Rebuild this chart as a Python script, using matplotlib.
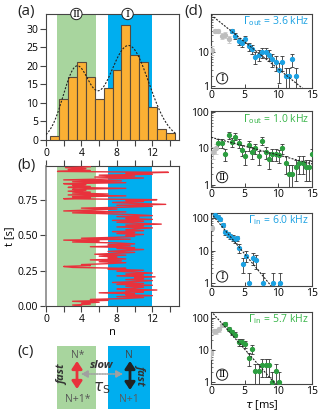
import matplotlib.pyplot as plt
import numpy as np
from matplotlib.patches import Rectangle, FancyArrowPatch

plt.rcParams['font.family'] = ['Open Sans', 'DejaVu Sans']
plt.rcParams['mathtext.fontset'] = 'dejavusans'

# ---------------------------------------------------------------------------
# Data
# ---------------------------------------------------------------------------
hist_n = [1, 2, 3, 4, 5, 6, 7, 8, 9, 10, 11, 12, 13, 14]
hist_counts = [1, 11, 17, 21, 17, 11, 14, 19, 31, 23, 21, 9, 3, 2]

# two-gaussian fit (amplitude, centre, width)
fit_peaks = [(19.0, 3.4, 1.5), (25.5, 9.3, 2.3)]

region_II = (1.25, 5.6)
region_I = (7.0, 12.0)

# charge trace n(t), sampled evenly between 0 and 0.985 s
trace_n = [
    4, 3, 5, 4, 6, 3, 7, 5,
    9, 11, 8, 12, 9, 10, 6,
    11, 9, 12.5, 8, 10, 11, 9, 12,
    8, 11, 7.5, 10, 12, 9, 11,
    10, 12.3, 8, 11, 9, 12, 10, 8,
    11, 7, 9, 3, 2, 5, 4,
    7, 9, 6, 8.5, 5, 9, 7, 8,
    6, 9, 5.5, 8, 10, 7, 9,
    11, 8, 10, 5, 9.5, 7, 10, 8,
    3, 6, 2, 9.5, 4, 8, 10,
    9, 11, 8, 10, 7.5, 11, 9, 10,
    12, 8, 11, 9, 13, 10, 8,
    11, 7.5, 12, 9, 10.5, 8, 12, 10,
    7, 3, 9, 2, 5, 8, 4,
    9, 12, 8, 13.5, 10, 7.5, 11, 9,
    12.5, 2, 5, 3, 9, 2.5, 7,
    3, 5, 2.5, 4.5, 3, 9, 2.5, 5,
    3, 4.5, 2, 9, 3, 8.5, 2,
    7, 11, 5.5, 10, 6, 12, 9, 13.8,
    1.3, 5, 2.5, 4.5, 2.2, 5,
]
trace_tmax = 0.985

# (d) waiting-time histograms
d1_gray_tau = [0.1, 0.6, 1.1, 1.6, 2.1, 2.6]
d1_gray_cnt = [11, 40, 40, 28, 31, 23]
d1_tau = [3.1, 3.6, 4.1, 4.6, 5.1, 5.6, 6.1, 6.6, 7.1, 7.6, 8.1, 8.6, 9.1,
          9.6, 10.1, 10.6, 11.1, 11.6, 12.1, 12.6]
d1_cnt = [40, 29, 20, 18, 23, 14, 12, 7, 8, 9.5, 9.5, 8, 6, 5, 3, 5, 2, 2, 6, 2]

d2_gray_tau = [0.3, 0.75]
d2_gray_cnt = [8, 10]
d2_tau = [1.1, 1.6, 2.1, 2.6, 3.1, 3.6, 4.1, 4.6, 5.1, 5.6, 6.1, 6.6, 7.1, 7.6,
          8.1, 8.6, 9.1, 9.6, 10.1, 10.6, 11.1, 11.6, 12.1, 12.6, 13.1, 13.6,
          14.1, 14.6, 15.0]
d2_cnt = [14, 14, 7, 23, 15, 21, 14, 9, 6, 12, 8, 10, 6, 16, 8, 5, 7, 7, 6.5,
          10, 4, 2, 2, 3, 4, 4, 3, 3, 7]

d3_gray_tau = [0.1]
d3_gray_cnt = [50]
d3_tau = [0.6, 1.0, 1.35, 1.75, 2.1, 2.5, 2.8, 3.2, 3.5, 3.8, 4.2, 4.7, 5.2,
          5.7, 6.2, 6.7, 7.7, 9.2, 10.2]
d3_cnt = [120, 110, 90, 62, 36, 32, 28, 25, 22, 24, 12, 4, 7, 1, 6, 5, 1, 1, 1]

d4_gray_tau = [0.05, 0.4, 0.8, 1.2, 1.6]
d4_gray_cnt = [8, 38, 38, 43, 58]
d4_tau = [2.1, 2.6, 3.1, 3.6, 4.1, 4.6, 5.1, 5.6, 6.1, 6.6, 7.1, 7.6, 8.1, 8.6,
          9.1, 9.6, 10.1]
d4_cnt = [64, 45, 35, 30, 17, 17, 15, 5.4, 11, 2.2, 2.2, 3.3, 3.3, 3.3, 1, 2.2, 1]

# exponential fits: amplitude, decay per ms
d_fits = [(115, 0.36), (20, 0.112), (140, 0.575), (160, 0.545)]
d_labels = [r'$\Gamma_{\rm out}$ = 3.6 kHz', r'$\Gamma_{\rm out}$ = 1.0 kHz',
            r'$\Gamma_{\rm in}$ = 6.0 kHz', r'$\Gamma_{\rm in}$ = 5.7 kHz']
d_regions = ['I', 'II', 'I', 'II']
d_ylims = [(0.88, 122), (0.87, 105), (0.82, 142), (0.87, 150)]

# ---------------------------------------------------------------------------
# Style
# ---------------------------------------------------------------------------
GREEN = '#a8d59e'
BLUE = '#00aeef'
ORANGE = '#fbb034'
RED = '#e8323c'
PT_BLUE = '#1ba1e2'
PT_GREEN = '#2c9e40'
TXT_GREEN = '#39b54a'
GRAY = '#bdbdbd'
SPINE = '#444444'
W, H = 318, 416


def px_axes(fig, x0, y0, x1, y1):
    """Axes from pixel box (top-left origin)."""
    return fig.add_axes([x0 / W, 1 - y1 / H, (x1 - x0) / W, (y1 - y0) / H])


def style_spines(ax, color=SPINE, lw=0.8):
    for s in ax.spines.values():
        s.set_color(color)
        s.set_linewidth(lw)


def circled(ax, x, y, label, transform, size=7):
    ax.text(x, y, label, transform=transform, ha='center', va='center',
            fontsize=size, family=['DejaVu Serif'], clip_on=False, zorder=10,
            bbox=dict(boxstyle='circle,pad=0.12', fc='white', ec='#222222', lw=0.7))


def double_arrow(ax, p0, p1, color, lw, hl, hw, ls='-'):
    ax.add_patch(FancyArrowPatch(p0, p1, arrowstyle=f'<|-|>,head_length={hl},head_width={hw}',
                                 mutation_scale=10, lw=lw, ls=ls, color=color,
                                 shrinkA=0, shrinkB=0))


fig = plt.figure(figsize=(W / 100, H / 100), dpi=100)

# overlay for panel letters and diagram (c)
ov = fig.add_axes([0, 0, 1, 1])
ov.set_xlim(0, W)
ov.set_ylim(H, 0)
ov.axis('off')

# ---------------------------------------------------------------------------
# (a) histogram
# ---------------------------------------------------------------------------
ax_a = px_axes(fig, 46, 14, 179, 140)
ax_a.axvspan(*region_II, color=GREEN, lw=0)
ax_a.axvspan(*region_I, color=BLUE, lw=0)
ax_a.bar(hist_n, hist_counts, width=1.0, color=ORANGE, edgecolor='#5a4a3a', lw=0.8, zorder=3)
nn = np.linspace(0, 14.7, 300)
fit = sum(a * np.exp(-(nn - m) ** 2 / (2 * s ** 2)) for a, m, s in fit_peaks)
ax_a.plot(nn, fit, color='#222222', lw=0.8, ls=(0, (1.8, 1.4)), zorder=4)
ax_a.set_xlim(0, 15)
ax_a.set_ylim(0, 34)
ax_a.set_yticks([0, 5, 10, 15, 20, 25, 30])
ax_a.set_xticks(range(0, 15, 2))
ax_a.set_xticklabels(['0', '', '4', '', '8', '', '12', ''])
ax_a.tick_params(direction='out', length=4, width=0.8, labelsize=7.5, pad=1.5, color=SPINE)
style_spines(ax_a)
circled(ax_a, sum(region_II) / 2, 34, 'II', ax_a.transData)
circled(ax_a, sum(region_I) / 2 - 0.3, 34, 'I', ax_a.transData)

# ---------------------------------------------------------------------------
# (b) trace
# ---------------------------------------------------------------------------
ax_b = px_axes(fig, 46, 166, 179, 306)
ax_b.axvspan(*region_II, color=GREEN, lw=0)
ax_b.axvspan(*region_I, color=BLUE, lw=0)
t = np.linspace(0, trace_tmax, len(trace_n))
ax_b.plot(trace_n, t, color=RED, lw=1.0, zorder=3)
ax_b.set_xlim(0, 15)
ax_b.set_ylim(0, 0.99)
ax_b.set_yticks([0, 0.25, 0.5, 0.75])
ax_b.set_yticklabels(['0.00', '0.25', '0.50', '0.75'])
ax_b.set_xticks(range(0, 15, 2))
ax_b.set_xticklabels(['0', '', '4', '', '8', '', '12', ''])
ax_b.tick_params(direction='out', length=4, width=0.8, labelsize=7.5, pad=1.5,
                 color=SPINE, top=True)
ax_b.set_xlabel('n', fontsize=8, labelpad=2)
ax_b.set_ylabel('t [s]', fontsize=8, labelpad=2)
style_spines(ax_b)
ax_b.spines['left'].set_color('#888888')
ax_b.spines['left'].set_linewidth(1.2)

# ---------------------------------------------------------------------------
# (c) diagram
# ---------------------------------------------------------------------------
ov.add_patch(Rectangle((57, 346), 39, 63, color=GREEN, lw=0))
ov.add_patch(Rectangle((108, 346), 42, 63, color=BLUE, lw=0))
ov.text(78, 355, 'N*', ha='center', va='center', fontsize=7.5, color='#555555')
ov.text(78, 400, 'N+1*', ha='center', va='center', fontsize=7.5, color='#555555')
ov.text(129, 355, 'N', ha='center', va='center', fontsize=7.5, color='#444444')
ov.text(129, 400, 'N+1', ha='center', va='center', fontsize=7.5, color='#5a5a5a')
ov.text(63, 375, 'fast', rotation=90, ha='center', va='center', fontsize=8,
        fontweight='bold', fontstyle='italic', color='#333333')
ov.text(141, 374, 'fast', rotation=-90, ha='center', va='center', fontsize=8,
        fontweight='bold', fontstyle='italic', color='#333333')
double_arrow(ov, (77, 361), (77, 389), RED, 2.0, 0.45, 0.3)
double_arrow(ov, (130, 361), (130, 390), '#222222', 2.0, 0.45, 0.3)
double_arrow(ov, (81, 374), (123, 374), '#a0a0a0', 1.1, 0.4, 0.22, ls=(0, (1, 0.8)))
ov.text(102, 366, 'slow', ha='center', va='center', fontsize=8,
        fontweight='bold', fontstyle='italic', color='#333333')
ov.text(102, 388, r'$\tau_{\rm S}$', ha='center', va='center', fontsize=11, color='#333333')

# panel letters
ov.text(17, 11, '(a)', ha='left', va='center', fontsize=11, color='#222222')
ov.text(17, 166, '(b)', ha='left', va='center', fontsize=11, color='#222222')
ov.text(17, 352, '(c)', ha='left', va='center', fontsize=11, color='#222222')
ov.text(184, 12, '(d)', ha='left', va='center', fontsize=11, color='#222222')

# ---------------------------------------------------------------------------
# (d) waiting times
# ---------------------------------------------------------------------------
d_boxes = [(14, 88), (111, 187), (213, 286), (312, 384)]
d_sets = [
    (d1_gray_tau, d1_gray_cnt, d1_tau, d1_cnt),
    (d2_gray_tau, d2_gray_cnt, d2_tau, d2_cnt),
    (d3_gray_tau, d3_gray_cnt, d3_tau, d3_cnt),
    (d4_gray_tau, d4_gray_cnt, d4_tau, d4_cnt),
]
tt = np.linspace(0, 15, 200)


def plot_counts(ax, tau, cnt, color, ecolor):
    cnt = np.asarray(cnt, dtype=float)
    err = np.sqrt(cnt)
    lo = np.minimum(err, cnt - 0.3)
    ax.errorbar(tau, cnt, yerr=[lo, err], fmt='o', ms=2.8, mfc=color, mec=color,
                ecolor=ecolor, elinewidth=0.6, capsize=1.5, capthick=0.6, zorder=3)


for i, ((y0, y1), (gt, gc, dt, dc)) in enumerate(zip(d_boxes, d_sets)):
    ax = px_axes(fig, 211, y0, 312, y1)
    ax.set_yscale('log')
    pt_col = PT_BLUE if d_regions[i] == 'I' else PT_GREEN
    txt_col = PT_BLUE if d_regions[i] == 'I' else TXT_GREEN
    plot_counts(ax, gt, gc, GRAY, '#c8c8c8')
    plot_counts(ax, dt, dc, pt_col, '#333333')
    a, k = d_fits[i]
    ax.plot(tt, a * np.exp(-k * tt), color='#222222', lw=0.8, ls=(0, (1.8, 1.2)), zorder=4)
    ax.set_xlim(0, 15)
    ax.set_ylim(*d_ylims[i])
    ax.set_xticks([0, 5, 10, 15])
    ax.tick_params(which='both', direction='in', labelsize=7.5, pad=1.5, color=SPINE)
    ax.tick_params(which='major', length=3, width=0.7)
    ax.tick_params(which='minor', length=1.5, width=0.5)
    ax.set_yticks([1, 10, 100])
    # the top panel's 100 label sits under the (d) letter
    ax.set_yticklabels(['1', '10', '' if i == 0 else '100'])
    style_spines(ax)
    ax.text(0.97, 0.9, d_labels[i], transform=ax.transAxes, ha='right', va='center',
            fontsize=7.5, color=txt_col)
    circled(ax, 0.11, 0.13, d_regions[i], ax.transAxes, size=6.5)
    if i == 3:
        ax.set_xlabel(r'$\tau$ [ms]', fontsize=8, labelpad=1)

fig.savefig('out.png', dpi=100)
